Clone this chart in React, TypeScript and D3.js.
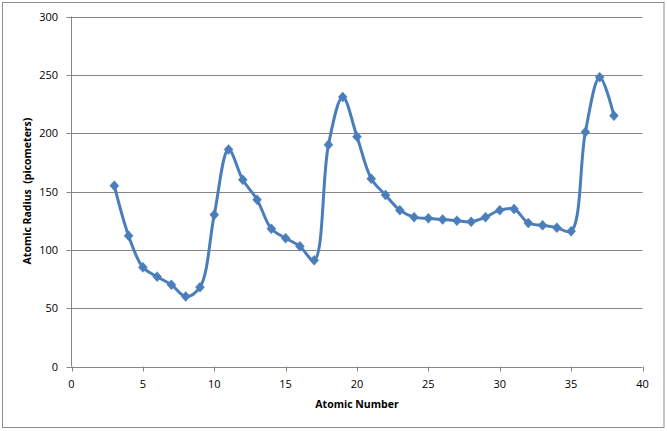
import React from "react";
import * as d3 from "d3";

const atomicNumbers = [3, 4, 5, 6, 7, 8, 9, 10, 11, 12, 13, 14, 15, 16, 17, 18, 19, 20, 21, 22, 23, 24, 25, 26, 27, 28, 29, 30, 31, 32, 33, 34, 35, 36, 37, 38];
const radii = [155, 112, 85, 77, 70, 60, 68, 130, 186, 160, 143, 118, 110, 103, 91, 190, 231, 197, 161, 147, 134, 128, 127, 126, 125, 124, 128, 134, 135, 123, 121, 119, 116, 201, 248, 215];
const xTicks = [0, 5, 10, 15, 20, 25, 30, 35, 40];
const yTicks = [0, 50, 100, 150, 200, 250, 300];

const W = 667;
const H = 431;
const left = 71.5;
const right = 642.5;
const top = 16.5;
const bottom = 366.5;
const font = "'Open Sans', 'Liberation Sans', sans-serif";

export default function App() {
  const x = d3.scaleLinear().domain([0, 40]).range([left, right]);
  const y = d3.scaleLinear().domain([0, 300]).range([bottom, top]);
  const pts: [number, number][] = atomicNumbers.map((n, i) => [x(n), y(radii[i])]);
  const line = d3.line().curve(d3.curveCatmullRom.alpha(0.5))(pts) || "";
  const diamond = "M0,-5L4.5,0L0,5L-4.5,0Z";

  return (
    <svg width={W} height={H} style={{ position: "absolute", left: 0, top: 0 }}>
      <rect x={0} y={0} width={W} height={H} fill="#fff" />
      <rect x={2.5} y={2.5} width={661.5} height={425} fill="#fff" stroke="#8c8c8c" strokeWidth={1} />
      {yTicks.map((t) => (
        <g key={"y" + t}>
          <line x1={left - 5} x2={right} y1={Math.round(y(t)) + 0.5} y2={Math.round(y(t)) + 0.5} stroke="#868686" strokeWidth={1} />
          <text x={58} y={y(t) + 4} textAnchor="end" fontFamily={font} fontSize={11} fill="#000">{t}</text>
        </g>
      ))}
      <line x1={left} x2={left} y1={top} y2={bottom} stroke="#868686" strokeWidth={1} />
      {xTicks.map((t) => (
        <g key={"x" + t}>
          <line x1={Math.round(x(t)) + 0.5} x2={Math.round(x(t)) + 0.5} y1={bottom} y2={bottom + 5} stroke="#868686" strokeWidth={1} />
          <text x={x(t)} y={388} textAnchor="middle" fontFamily={font} fontSize={11} fill="#000">{t}</text>
        </g>
      ))}
      <text x={357} y={408} textAnchor="middle" fontFamily={font} fontSize={10.5} fontWeight="bold" fill="#000">Atomic Number</text>
      <text transform={`translate(31,191) rotate(-90)`} textAnchor="middle" fontFamily={font} fontSize={10.5} fontWeight="bold" fill="#000" style={{ whiteSpace: "pre" }}>{"Atomic Radius  (picometers)"}</text>
      <path d={line} fill="none" stroke="#4a7ebb" strokeWidth={3} strokeLinejoin="round" />
      {pts.map((p, i) => (
        <path key={i} d={diamond} transform={`translate(${p[0]},${p[1]})`} fill="#4a7ebb" stroke="#4a7ebb" strokeWidth={0.5} />
      ))}
    </svg>
  );
}
